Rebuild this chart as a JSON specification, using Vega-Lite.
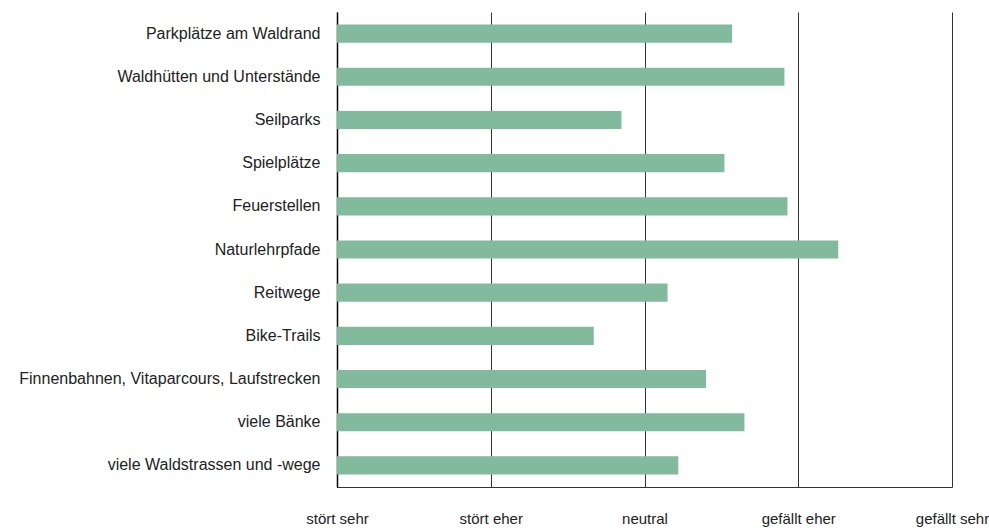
{
  "$schema": "https://vega.github.io/schema/vega-lite/v6.json",
  "autosize": "none",
  "padding": {"left": 337, "top": 12, "right": 37, "bottom": 44},
  "width": 615,
  "height": 475,
  "background": "white",
  "data": {"values": [
    {"item": "Parkplätze am Waldrand", "score": 3.57},
    {"item": "Waldhütten und Unterstände", "score": 3.91},
    {"item": "Seilparks", "score": 2.85},
    {"item": "Spielplätze", "score": 3.52},
    {"item": "Feuerstellen", "score": 3.93},
    {"item": "Naturlehrpfade", "score": 4.26},
    {"item": "Reitwege", "score": 3.15},
    {"item": "Bike-Trails", "score": 2.67},
    {"item": "Finnenbahnen, Vitaparcours, Laufstrecken", "score": 3.40},
    {"item": "viele Bänke", "score": 3.65},
    {"item": "viele Waldstrassen und -wege", "score": 3.22}
  ]},
  "mark": {"type": "bar", "color": "#82BA9E"},
  "encoding": {
    "y": {
      "field": "item", "type": "nominal", "sort": null,
      "scale": {"paddingInner": 0.58, "paddingOuter": 0.29},
      "axis": {
        "title": null, "ticks": false, "domainColor": "#000000", "domainWidth": 1.5,
        "labelFont": "Liberation Sans, Arial, sans-serif",
        "labelFontSize": 16, "labelColor": "#222222", "labelPadding": 17, "labelLimit": 400
      }
    },
    "x": {
      "field": "score", "type": "quantitative",
      "scale": {"domain": [1, 5], "nice": false, "zero": false},
      "axis": {
        "title": null, "values": [1, 2, 3, 4, 5], "ticks": false,
        "grid": true, "gridColor": "#333333", "gridWidth": 1, "gridOpacity": 1,
        "domainColor": "#333333", "domainWidth": 1,
        "labelFont": "Liberation Sans, Arial, sans-serif",
        "labelFontSize": 15, "labelColor": "#222222", "labelPadding": 24,
        "labelFlush": false,
        "labelExpr": "datum.value == 1 ? 'stört sehr' : datum.value == 2 ? 'stört eher' : datum.value == 3 ? 'neutral' : datum.value == 4 ? 'gefällt eher' : 'gefällt sehr'"
      }
    },
    "x2": {"datum": 1}
  },
  "config": {"view": {"stroke": null}}
}
